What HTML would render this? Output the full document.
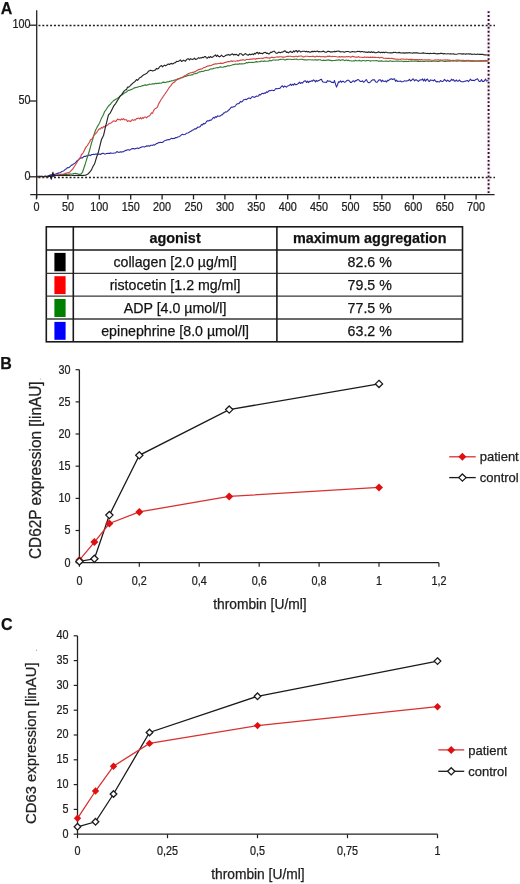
<!DOCTYPE html>
<html><head><meta charset="utf-8"><style>
html,body{margin:0;padding:0;background:#fff;}
body{width:520px;height:884px;position:relative;overflow:hidden;font-family:"Liberation Sans",sans-serif;}
text{stroke:#1a1a1a;stroke-width:0.25px;}
</style></head><body>
<svg width="520" height="884" viewBox="0 0 520 884" style="position:absolute;left:0;top:0;will-change:transform">
<rect width="520" height="884" fill="#fff"/>
<text x="0.8" y="13.6" font-family='"Liberation Sans", sans-serif' font-weight="bold" font-size="16" fill="#111">A</text>
<line x1="488.6" y1="10" x2="488.6" y2="194" stroke="#fbeef8" stroke-width="4"/>
<line x1="38.45" y1="25.5" x2="495" y2="25.5" stroke="#1e1e1e" stroke-width="1.5" stroke-dasharray="1.95 1.939"/>
<line x1="38.45" y1="177.4" x2="495" y2="177.4" stroke="#1e1e1e" stroke-width="1.5" stroke-dasharray="1.95 1.939"/>
<path d="M36.5 176.5 L37.5 176.4 L38.5 176.4 L39.5 176.3 L40.5 176.3 L41.5 176.3 L42.5 176.5 L43.5 176.5 L44.5 176.4 L45.5 176.2 L46.5 176.2 L47.5 176.1 L48.5 175.7 L49.5 175.3 L50.5 174.9 L51.5 174.7 L52.5 174.6 L53.5 174.5 L54.5 174.4 L55.5 174.1 L56.5 173.7 L57.5 173.4 L58.5 173.1 L59.5 172.8 L60.5 172.8 L61.5 171.5 L62.5 171.3 L63.5 170.9 L64.5 170.2 L65.5 169.2 L66.5 168.7 L67.5 167.6 L68.5 167.8 L69.5 167.2 L70.5 166.2 L71.5 165.1 L72.5 164.9 L73.5 163.9 L74.5 163.4 L75.5 162.7 L76.5 161.5 L77.5 160.5 L78.5 159.9 L79.5 158.9 L80.5 158.0 L81.5 157.7 L82.5 157.9 L83.5 156.8 L84.5 156.2 L85.5 156.4 L86.5 155.9 L87.5 155.8 L88.5 155.5 L89.5 155.1 L90.5 155.6 L91.5 154.6 L92.5 154.5 L93.5 154.2 L94.5 154.5 L95.5 154.1 L96.5 154.0 L97.5 154.4 L98.5 154.0 L99.5 154.1 L100.5 154.5 L101.5 153.7 L102.5 153.3 L103.5 153.4 L104.5 154.0 L105.5 154.0 L106.5 153.5 L107.5 153.4 L108.5 153.2 L109.5 153.4 L110.5 152.9 L111.5 153.2 L112.5 153.3 L113.5 153.3 L114.5 153.0 L115.5 153.0 L116.5 151.9 L117.5 151.8 L118.5 152.4 L119.5 152.3 L120.5 151.8 L121.5 152.1 L122.5 151.8 L123.5 151.7 L124.5 150.9 L125.5 150.4 L126.5 150.4 L127.5 149.8 L128.5 149.8 L129.5 150.3 L130.5 149.6 L131.5 148.9 L132.5 148.6 L133.5 148.5 L134.5 149.1 L135.5 148.6 L136.5 148.3 L137.5 147.9 L138.5 148.6 L139.5 148.1 L140.5 147.6 L141.5 147.1 L142.5 146.8 L143.5 146.7 L144.5 147.0 L145.5 146.4 L146.5 145.9 L147.5 146.1 L148.5 145.7 L149.5 146.3 L150.5 145.3 L151.5 145.3 L152.5 145.4 L153.5 144.8 L154.5 145.1 L155.5 144.3 L156.5 143.6 L157.5 143.4 L158.5 142.6 L159.5 142.6 L160.5 142.2 L161.5 142.5 L162.5 142.4 L163.5 141.7 L164.5 140.7 L165.5 140.5 L166.5 140.1 L167.5 139.8 L168.5 139.5 L169.5 139.8 L170.5 138.9 L171.5 138.3 L172.5 138.8 L173.5 138.4 L174.5 138.5 L175.5 137.6 L176.5 137.7 L177.5 137.1 L178.5 136.8 L179.5 136.4 L180.5 135.7 L181.5 134.8 L182.5 134.3 L183.5 134.7 L184.5 134.5 L185.5 134.2 L186.5 133.2 L187.5 133.0 L188.5 132.7 L189.5 132.0 L190.5 131.6 L191.5 130.8 L192.5 130.3 L193.5 129.8 L194.5 128.9 L195.5 128.9 L196.5 128.6 L197.5 127.1 L198.5 127.3 L199.5 127.0 L200.5 126.2 L201.5 124.5 L202.5 125.0 L203.5 123.4 L204.5 123.9 L205.5 123.2 L206.5 121.5 L207.5 120.8 L208.5 120.9 L209.5 120.4 L210.5 120.1 L211.5 120.0 L212.5 118.5 L213.5 117.4 L214.5 118.2 L215.5 116.6 L216.5 117.3 L217.5 115.9 L218.5 116.3 L219.5 116.1 L220.5 115.8 L221.5 114.9 L222.5 114.8 L223.5 113.1 L224.5 112.9 L225.5 111.9 L226.5 112.0 L227.5 111.4 L228.5 110.2 L229.5 109.5 L230.5 108.0 L231.5 107.1 L232.5 107.3 L233.5 106.7 L234.5 106.7 L235.5 105.8 L236.5 104.3 L237.5 103.8 L238.5 103.8 L239.5 103.0 L240.5 101.4 L241.5 101.9 L242.5 101.5 L243.5 99.7 L244.5 99.7 L245.5 99.3 L246.5 99.6 L247.5 98.7 L248.5 98.1 L249.5 98.1 L250.5 98.7 L251.5 97.2 L252.5 96.6 L253.5 97.0 L254.5 97.4 L255.5 96.7 L256.5 96.0 L257.5 96.3 L258.5 95.9 L259.5 94.4 L260.5 95.0 L261.5 93.8 L262.5 93.3 L263.5 93.8 L264.5 93.0 L265.5 93.1 L266.5 91.8 L267.5 92.4 L268.5 91.2 L269.5 90.5 L270.5 90.7 L271.5 90.3 L272.5 90.3 L273.5 90.7 L274.5 90.3 L275.5 88.7 L276.5 88.6 L277.5 88.7 L278.5 88.5 L279.5 88.5 L280.5 87.8 L281.5 86.2 L282.5 85.9 L283.5 87.3 L284.5 86.0 L285.5 86.5 L286.5 87.1 L287.5 86.0 L288.5 85.7 L289.5 85.3 L290.5 84.2 L291.5 85.4 L292.5 84.3 L293.5 85.1 L294.5 83.5 L295.5 84.6 L296.5 84.6 L297.5 84.0 L298.5 83.3 L299.5 82.1 L300.5 83.5 L301.5 82.6 L302.5 83.1 L303.5 81.7 L304.5 81.0 L305.5 80.8 L306.5 82.5 L307.5 81.1 L308.5 82.6 L309.5 81.4 L310.5 81.5 L311.5 80.8 L312.5 81.2 L313.5 79.9 L314.5 80.4 L315.5 82.0 L316.5 80.4 L317.5 81.3 L318.5 80.6 L319.5 80.3 L320.5 79.5 L321.5 79.2 L322.5 81.7 L323.5 82.1 L324.5 82.2 L325.5 82.2 L326.5 82.6 L327.5 80.6 L328.5 81.2 L329.5 81.1 L330.5 81.3 L331.5 82.4 L332.5 82.3 L333.5 82.8 L334.5 80.6 L335.5 84.1 L336.5 87.1 L337.5 84.7 L338.5 81.8 L339.5 82.3 L340.5 80.9 L341.5 82.3 L342.5 81.2 L343.5 81.4 L344.5 82.3 L345.5 82.0 L346.5 80.8 L347.5 80.2 L348.5 80.3 L349.5 81.1 L350.5 82.4 L351.5 82.5 L352.5 81.2 L353.5 80.8 L354.5 81.8 L355.5 80.6 L356.5 80.6 L357.5 79.5 L358.5 79.7 L359.5 80.7 L360.5 81.5 L361.5 81.5 L362.5 80.8 L363.5 82.2 L364.5 81.7 L365.5 80.2 L366.5 79.6 L367.5 81.9 L368.5 82.6 L369.5 82.7 L370.5 81.8 L371.5 80.7 L372.5 79.8 L373.5 79.9 L374.5 79.8 L375.5 81.8 L376.5 82.2 L377.5 82.0 L378.5 80.2 L379.5 79.9 L380.5 79.9 L381.5 81.8 L382.5 80.1 L383.5 81.3 L384.5 81.4 L385.5 81.0 L386.5 82.0 L387.5 80.4 L388.5 80.6 L389.5 79.6 L390.5 79.1 L391.5 78.8 L392.5 79.5 L393.5 79.1 L394.5 78.8 L395.5 81.3 L396.5 80.1 L397.5 81.4 L398.5 81.2 L399.5 81.2 L400.5 81.0 L401.5 81.8 L402.5 81.8 L403.5 81.4 L404.5 80.8 L405.5 81.0 L406.5 81.1 L407.5 80.7 L408.5 80.4 L409.5 79.4 L410.5 81.0 L411.5 80.5 L412.5 79.1 L413.5 79.0 L414.5 81.0 L415.5 79.8 L416.5 79.9 L417.5 80.7 L418.5 81.4 L419.5 80.2 L420.5 79.9 L421.5 80.0 L422.5 78.9 L423.5 80.9 L424.5 79.1 L425.5 81.2 L426.5 79.6 L427.5 79.1 L428.5 80.9 L429.5 81.4 L430.5 79.9 L431.5 80.3 L432.5 80.2 L433.5 80.9 L434.5 79.6 L435.5 81.0 L436.5 81.9 L437.5 81.4 L438.5 81.8 L439.5 82.0 L440.5 80.5 L441.5 81.3 L442.5 81.5 L443.5 80.9 L444.5 79.4 L445.5 80.4 L446.5 81.5 L447.5 80.1 L448.5 80.7 L449.5 81.5 L450.5 80.9 L451.5 79.2 L452.5 80.3 L453.5 79.6 L454.5 81.1 L455.5 81.0 L456.5 80.0 L457.5 81.3 L458.5 81.0 L459.5 80.0 L460.5 81.2 L461.5 81.7 L462.5 81.8 L463.5 81.8 L464.5 81.2 L465.5 81.1 L466.5 80.8 L467.5 80.5 L468.5 81.7 L469.5 80.3 L470.5 79.1 L471.5 80.5 L472.5 80.4 L473.5 80.4 L474.5 80.6 L475.5 79.7 L476.5 79.3 L477.5 78.8 L478.5 80.6 L479.5 81.5 L480.5 81.2 L481.5 79.5 L482.5 81.4 L483.5 81.5 L484.5 80.7 L485.5 79.0 L486.5 80.9 L487.5 80.8 L488.5 80.8" fill="none" stroke="#2c2ca4" stroke-width="1.1" stroke-linejoin="round"/>
<path d="M36.5 176.5 L37.5 176.6 L38.5 176.5 L39.5 176.6 L40.5 176.6 L41.5 176.4 L42.5 176.3 L43.5 176.6 L44.5 176.5 L45.5 176.4 L46.5 176.7 L47.5 176.5 L48.5 176.6 L49.5 176.4 L50.5 176.3 L51.5 176.0 L52.5 176.0 L53.5 176.0 L54.5 175.8 L55.5 175.7 L56.5 175.5 L57.5 175.1 L58.5 175.1 L59.5 175.0 L60.5 174.7 L61.5 174.4 L62.5 174.6 L63.5 174.5 L64.5 174.5 L65.5 174.5 L66.5 174.4 L67.5 174.3 L68.5 174.1 L69.5 174.1 L70.5 174.0 L71.5 174.0 L72.5 174.0 L73.5 173.6 L74.5 173.5 L75.5 173.4 L76.5 173.6 L77.5 173.9 L78.5 174.3 L79.5 174.3 L80.5 174.2 L81.5 173.6 L82.5 172.2 L83.5 169.3 L84.5 166.2 L85.5 163.2 L86.5 159.8 L87.5 156.8 L88.5 153.7 L89.5 150.5 L90.5 146.9 L91.5 143.0 L92.5 140.0 L93.5 136.7 L94.5 133.2 L95.5 130.3 L96.5 128.5 L97.5 126.3 L98.5 124.9 L99.5 123.0 L100.5 120.6 L101.5 118.1 L102.5 116.5 L103.5 114.6 L104.5 111.7 L105.5 110.6 L106.5 109.0 L107.5 107.4 L108.5 106.0 L109.5 105.0 L110.5 104.3 L111.5 102.6 L112.5 101.9 L113.5 100.5 L114.5 100.1 L115.5 99.2 L116.5 98.9 L117.5 98.4 L118.5 97.3 L119.5 97.0 L120.5 95.9 L121.5 94.9 L122.5 94.7 L123.5 93.7 L124.5 93.1 L125.5 92.6 L126.5 92.1 L127.5 91.1 L128.5 90.3 L129.5 90.4 L130.5 89.6 L131.5 89.6 L132.5 89.1 L133.5 88.2 L134.5 87.9 L135.5 87.6 L136.5 87.4 L137.5 87.1 L138.5 86.7 L139.5 86.5 L140.5 86.5 L141.5 86.0 L142.5 85.6 L143.5 85.6 L144.5 85.1 L145.5 84.9 L146.5 85.3 L147.5 84.9 L148.5 84.7 L149.5 84.1 L150.5 84.2 L151.5 84.2 L152.5 83.7 L153.5 83.9 L154.5 83.9 L155.5 83.3 L156.5 83.6 L157.5 83.4 L158.5 83.4 L159.5 83.1 L160.5 83.2 L161.5 83.1 L162.5 82.4 L163.5 82.1 L164.5 82.4 L165.5 82.6 L166.5 82.0 L167.5 81.8 L168.5 81.8 L169.5 81.4 L170.5 81.2 L171.5 80.9 L172.5 80.8 L173.5 80.6 L174.5 80.1 L175.5 79.8 L176.5 79.8 L177.5 78.9 L178.5 78.9 L179.5 78.8 L180.5 78.1 L181.5 77.6 L182.5 77.7 L183.5 77.1 L184.5 76.6 L185.5 76.4 L186.5 76.3 L187.5 75.6 L188.5 75.4 L189.5 75.2 L190.5 75.3 L191.5 74.8 L192.5 74.8 L193.5 74.0 L194.5 73.7 L195.5 73.6 L196.5 73.5 L197.5 72.9 L198.5 72.3 L199.5 71.8 L200.5 71.8 L201.5 71.3 L202.5 71.5 L203.5 71.4 L204.5 70.7 L205.5 70.4 L206.5 70.5 L207.5 70.3 L208.5 70.2 L209.5 69.6 L210.5 69.0 L211.5 68.8 L212.5 69.0 L213.5 68.4 L214.5 68.2 L215.5 68.0 L216.5 67.8 L217.5 67.6 L218.5 67.8 L219.5 67.1 L220.5 66.7 L221.5 67.2 L222.5 67.2 L223.5 67.1 L224.5 66.5 L225.5 66.6 L226.5 66.5 L227.5 65.7 L228.5 65.8 L229.5 65.8 L230.5 65.5 L231.5 65.2 L232.5 64.8 L233.5 64.6 L234.5 64.4 L235.5 64.1 L236.5 64.3 L237.5 64.0 L238.5 64.3 L239.5 63.6 L240.5 64.0 L241.5 63.8 L242.5 63.9 L243.5 63.8 L244.5 63.6 L245.5 63.2 L246.5 62.5 L247.5 62.9 L248.5 62.4 L249.5 62.3 L250.5 62.5 L251.5 62.4 L252.5 62.2 L253.5 62.5 L254.5 62.2 L255.5 61.9 L256.5 61.6 L257.5 62.0 L258.5 61.7 L259.5 61.8 L260.5 61.4 L261.5 61.0 L262.5 61.2 L263.5 61.4 L264.5 60.9 L265.5 61.2 L266.5 61.3 L267.5 61.2 L268.5 61.1 L269.5 60.4 L270.5 60.6 L271.5 60.8 L272.5 60.1 L273.5 60.0 L274.5 60.0 L275.5 60.1 L276.5 60.0 L277.5 60.0 L278.5 60.1 L279.5 59.5 L280.5 59.3 L281.5 59.3 L282.5 59.2 L283.5 59.2 L284.5 59.9 L285.5 60.0 L286.5 59.3 L287.5 59.4 L288.5 59.3 L289.5 59.2 L290.5 59.2 L291.5 59.5 L292.5 59.5 L293.5 59.4 L294.5 59.2 L295.5 59.3 L296.5 59.1 L297.5 59.5 L298.5 59.7 L299.5 59.5 L300.5 59.2 L301.5 59.2 L302.5 59.4 L303.5 59.7 L304.5 59.9 L305.5 59.7 L306.5 60.0 L307.5 59.9 L308.5 59.8 L309.5 59.7 L310.5 59.8 L311.5 60.0 L312.5 59.8 L313.5 60.0 L314.5 59.9 L315.5 59.7 L316.5 59.9 L317.5 60.1 L318.5 59.7 L319.5 59.8 L320.5 59.9 L321.5 60.3 L322.5 60.5 L323.5 60.1 L324.5 60.4 L325.5 60.5 L326.5 60.0 L327.5 60.1 L328.5 59.8 L329.5 60.4 L330.5 60.4 L331.5 60.6 L332.5 60.6 L333.5 60.5 L334.5 60.5 L335.5 60.4 L336.5 60.0 L337.5 60.3 L338.5 59.9 L339.5 59.9 L340.5 60.5 L341.5 60.0 L342.5 59.9 L343.5 59.9 L344.5 60.6 L345.5 60.2 L346.5 60.0 L347.5 60.6 L348.5 60.2 L349.5 60.7 L350.5 60.7 L351.5 60.9 L352.5 61.0 L353.5 60.8 L354.5 60.9 L355.5 60.3 L356.5 60.8 L357.5 60.7 L358.5 60.8 L359.5 60.4 L360.5 60.8 L361.5 61.1 L362.5 60.5 L363.5 60.5 L364.5 60.7 L365.5 61.0 L366.5 60.6 L367.5 60.5 L368.5 60.5 L369.5 60.8 L370.5 61.1 L371.5 60.8 L372.5 60.7 L373.5 60.8 L374.5 60.7 L375.5 60.8 L376.5 60.5 L377.5 60.8 L378.5 61.3 L379.5 61.0 L380.5 61.1 L381.5 60.9 L382.5 61.1 L383.5 61.2 L384.5 61.2 L385.5 61.1 L386.5 61.1 L387.5 61.2 L388.5 61.4 L389.5 61.0 L390.5 60.9 L391.5 61.2 L392.5 61.4 L393.5 61.3 L394.5 61.2 L395.5 61.3 L396.5 61.1 L397.5 61.1 L398.5 61.1 L399.5 61.3 L400.5 61.2 L401.5 61.1 L402.5 61.3 L403.5 61.6 L404.5 61.3 L405.5 61.4 L406.5 61.3 L407.5 61.5 L408.5 61.4 L409.5 61.2 L410.5 61.1 L411.5 60.9 L412.5 61.1 L413.5 61.2 L414.5 61.0 L415.5 61.1 L416.5 61.1 L417.5 61.4 L418.5 61.1 L419.5 61.5 L420.5 61.3 L421.5 61.3 L422.5 61.2 L423.5 61.4 L424.5 61.5 L425.5 61.3 L426.5 61.2 L427.5 61.3 L428.5 61.4 L429.5 61.2 L430.5 61.3 L431.5 61.5 L432.5 61.3 L433.5 61.1 L434.5 61.0 L435.5 61.2 L436.5 61.3 L437.5 61.5 L438.5 61.5 L439.5 61.1 L440.5 61.0 L441.5 61.0 L442.5 60.9 L443.5 61.2 L444.5 61.4 L445.5 61.4 L446.5 61.1 L447.5 61.3 L448.5 61.1 L449.5 61.1 L450.5 61.2 L451.5 60.9 L452.5 60.8 L453.5 61.2 L454.5 61.0 L455.5 61.0 L456.5 61.1 L457.5 61.2 L458.5 60.9 L459.5 60.9 L460.5 61.0 L461.5 61.1 L462.5 60.9 L463.5 61.1 L464.5 61.3 L465.5 61.1 L466.5 61.1 L467.5 60.9 L468.5 60.9 L469.5 61.1 L470.5 60.9 L471.5 61.2 L472.5 61.3 L473.5 60.9 L474.5 61.3 L475.5 61.0 L476.5 61.2 L477.5 61.2 L478.5 61.0 L479.5 61.1 L480.5 61.1 L481.5 61.2 L482.5 61.0 L483.5 61.1 L484.5 61.3 L485.5 61.2 L486.5 61.1 L487.5 60.8 L488.5 60.9" fill="none" stroke="#347f34" stroke-width="1.15" stroke-linejoin="round"/>
<path d="M36.5 176.8 L37.5 176.8 L38.5 176.5 L39.5 176.4 L40.5 176.6 L41.5 176.7 L42.5 176.6 L43.5 176.5 L44.5 176.6 L45.5 176.6 L46.5 176.6 L47.5 176.4 L48.5 176.4 L49.5 176.3 L50.5 176.3 L51.5 176.3 L52.5 176.2 L53.5 175.9 L54.5 175.7 L55.5 175.4 L56.5 175.1 L57.5 174.9 L58.5 174.9 L59.5 174.7 L60.5 174.5 L61.5 174.5 L62.5 174.2 L63.5 174.0 L64.5 173.7 L65.5 173.4 L66.5 173.1 L67.5 172.8 L68.5 172.6 L69.5 172.3 L70.5 171.3 L71.5 170.2 L72.5 169.4 L73.5 167.9 L74.5 166.3 L75.5 164.8 L76.5 163.2 L77.5 161.5 L78.5 159.7 L79.5 158.3 L80.5 157.5 L81.5 154.5 L82.5 153.7 L83.5 152.2 L84.5 149.9 L85.5 148.1 L86.5 146.4 L87.5 145.6 L88.5 143.5 L89.5 142.3 L90.5 139.8 L91.5 139.3 L92.5 138.3 L93.5 136.3 L94.5 134.5 L95.5 133.8 L96.5 132.7 L97.5 131.3 L98.5 129.7 L99.5 128.8 L100.5 128.8 L101.5 127.4 L102.5 128.1 L103.5 126.6 L104.5 127.0 L105.5 125.5 L106.5 125.9 L107.5 125.1 L108.5 124.0 L109.5 123.4 L110.5 123.2 L111.5 122.7 L112.5 121.7 L113.5 120.9 L114.5 121.0 L115.5 121.5 L116.5 120.7 L117.5 119.0 L118.5 119.7 L119.5 119.6 L120.5 120.1 L121.5 118.9 L122.5 119.7 L123.5 118.6 L124.5 119.8 L125.5 119.7 L126.5 119.9 L127.5 121.5 L128.5 120.8 L129.5 121.1 L130.5 121.6 L131.5 120.3 L132.5 119.6 L133.5 120.4 L134.5 119.7 L135.5 119.9 L136.5 118.5 L137.5 118.6 L138.5 118.1 L139.5 118.8 L140.5 117.7 L141.5 119.0 L142.5 117.5 L143.5 118.3 L144.5 117.0 L145.5 117.0 L146.5 117.9 L147.5 116.8 L148.5 116.1 L149.5 116.0 L150.5 114.6 L151.5 112.8 L152.5 113.3 L153.5 110.9 L154.5 109.2 L155.5 108.4 L156.5 107.9 L157.5 107.0 L158.5 104.1 L159.5 102.4 L160.5 100.5 L161.5 99.0 L162.5 97.6 L163.5 96.0 L164.5 94.7 L165.5 93.2 L166.5 91.8 L167.5 90.2 L168.5 88.7 L169.5 87.1 L170.5 86.1 L171.5 84.7 L172.5 83.3 L173.5 82.6 L174.5 82.2 L175.5 80.8 L176.5 80.1 L177.5 79.4 L178.5 79.0 L179.5 78.3 L180.5 78.4 L181.5 77.5 L182.5 77.2 L183.5 76.6 L184.5 75.7 L185.5 75.6 L186.5 74.8 L187.5 74.2 L188.5 73.6 L189.5 73.2 L190.5 72.7 L191.5 72.7 L192.5 72.3 L193.5 72.3 L194.5 71.9 L195.5 71.6 L196.5 70.6 L197.5 70.2 L198.5 69.6 L199.5 69.4 L200.5 69.1 L201.5 69.0 L202.5 68.6 L203.5 67.8 L204.5 67.5 L205.5 67.3 L206.5 66.5 L207.5 66.1 L208.5 66.0 L209.5 65.6 L210.5 65.7 L211.5 65.2 L212.5 64.7 L213.5 64.4 L214.5 64.1 L215.5 63.8 L216.5 63.9 L217.5 63.8 L218.5 63.5 L219.5 63.5 L220.5 63.1 L221.5 63.4 L222.5 63.4 L223.5 63.1 L224.5 62.6 L225.5 62.4 L226.5 62.3 L227.5 61.6 L228.5 61.6 L229.5 61.6 L230.5 61.2 L231.5 60.9 L232.5 61.4 L233.5 61.0 L234.5 61.0 L235.5 61.3 L236.5 61.0 L237.5 60.6 L238.5 61.0 L239.5 60.5 L240.5 60.0 L241.5 60.3 L242.5 59.9 L243.5 59.8 L244.5 60.2 L245.5 60.1 L246.5 59.4 L247.5 59.5 L248.5 59.5 L249.5 59.4 L250.5 59.1 L251.5 59.3 L252.5 58.8 L253.5 58.8 L254.5 58.8 L255.5 59.2 L256.5 58.5 L257.5 58.8 L258.5 58.4 L259.5 58.5 L260.5 58.3 L261.5 58.2 L262.5 58.4 L263.5 58.1 L264.5 57.7 L265.5 57.6 L266.5 57.4 L267.5 58.0 L268.5 57.9 L269.5 58.1 L270.5 57.9 L271.5 57.2 L272.5 57.4 L273.5 57.6 L274.5 57.5 L275.5 57.2 L276.5 57.0 L277.5 56.9 L278.5 57.2 L279.5 56.7 L280.5 56.8 L281.5 56.7 L282.5 57.1 L283.5 57.0 L284.5 57.1 L285.5 57.0 L286.5 56.5 L287.5 56.3 L288.5 56.4 L289.5 56.2 L290.5 56.3 L291.5 56.5 L292.5 56.8 L293.5 56.6 L294.5 56.7 L295.5 56.2 L296.5 56.2 L297.5 56.8 L298.5 56.2 L299.5 56.3 L300.5 56.0 L301.5 56.0 L302.5 56.6 L303.5 56.9 L304.5 56.7 L305.5 56.2 L306.5 56.2 L307.5 56.2 L308.5 56.5 L309.5 56.6 L310.5 56.5 L311.5 56.5 L312.5 56.2 L313.5 56.4 L314.5 56.8 L315.5 56.8 L316.5 56.2 L317.5 56.4 L318.5 56.7 L319.5 56.3 L320.5 56.8 L321.5 56.6 L322.5 56.7 L323.5 56.5 L324.5 56.9 L325.5 56.9 L326.5 56.7 L327.5 56.3 L328.5 56.4 L329.5 56.1 L330.5 56.5 L331.5 56.8 L332.5 56.4 L333.5 56.5 L334.5 56.5 L335.5 56.5 L336.5 56.7 L337.5 57.0 L338.5 56.9 L339.5 56.6 L340.5 57.0 L341.5 56.6 L342.5 56.8 L343.5 56.8 L344.5 56.9 L345.5 57.0 L346.5 56.5 L347.5 56.7 L348.5 56.5 L349.5 56.7 L350.5 57.1 L351.5 56.9 L352.5 56.3 L353.5 56.6 L354.5 56.9 L355.5 57.1 L356.5 57.1 L357.5 57.2 L358.5 56.6 L359.5 57.2 L360.5 57.2 L361.5 57.2 L362.5 57.4 L363.5 57.5 L364.5 56.9 L365.5 57.3 L366.5 57.4 L367.5 57.0 L368.5 57.4 L369.5 57.4 L370.5 57.1 L371.5 57.5 L372.5 57.1 L373.5 57.4 L374.5 57.4 L375.5 57.2 L376.5 57.5 L377.5 57.5 L378.5 57.3 L379.5 57.9 L380.5 57.5 L381.5 57.4 L382.5 57.7 L383.5 58.1 L384.5 58.2 L385.5 58.3 L386.5 58.3 L387.5 58.4 L388.5 58.3 L389.5 58.3 L390.5 58.5 L391.5 58.4 L392.5 58.4 L393.5 58.9 L394.5 58.8 L395.5 59.1 L396.5 59.2 L397.5 59.1 L398.5 59.2 L399.5 59.3 L400.5 59.4 L401.5 59.0 L402.5 59.0 L403.5 59.1 L404.5 59.2 L405.5 59.2 L406.5 59.0 L407.5 59.3 L408.5 59.6 L409.5 59.4 L410.5 59.4 L411.5 59.4 L412.5 59.4 L413.5 59.7 L414.5 59.5 L415.5 59.6 L416.5 59.6 L417.5 59.6 L418.5 59.9 L419.5 59.5 L420.5 59.8 L421.5 59.6 L422.5 59.8 L423.5 60.0 L424.5 59.9 L425.5 59.8 L426.5 60.0 L427.5 59.7 L428.5 59.9 L429.5 59.9 L430.5 60.0 L431.5 60.2 L432.5 60.2 L433.5 60.2 L434.5 60.0 L435.5 59.9 L436.5 60.0 L437.5 59.9 L438.5 59.9 L439.5 60.3 L440.5 59.9 L441.5 60.2 L442.5 60.1 L443.5 60.0 L444.5 60.0 L445.5 59.9 L446.5 60.0 L447.5 59.9 L448.5 60.1 L449.5 60.0 L450.5 60.4 L451.5 60.5 L452.5 60.3 L453.5 60.3 L454.5 60.5 L455.5 60.2 L456.5 60.0 L457.5 60.1 L458.5 60.0 L459.5 60.3 L460.5 60.2 L461.5 60.2 L462.5 60.5 L463.5 60.2 L464.5 60.5 L465.5 60.5 L466.5 60.3 L467.5 60.6 L468.5 60.4 L469.5 60.6 L470.5 60.7 L471.5 60.5 L472.5 60.6 L473.5 60.7 L474.5 60.7 L475.5 60.7 L476.5 60.7 L477.5 60.8 L478.5 60.7 L479.5 60.8 L480.5 60.5 L481.5 60.6 L482.5 60.7 L483.5 60.5 L484.5 60.5 L485.5 60.4 L486.5 60.8 L487.5 60.6 L488.5 60.6" fill="none" stroke="#d44646" stroke-width="1.15" stroke-linejoin="round"/>
<path d="M36.5 176.5 L37.5 176.7 L38.5 176.7 L39.5 176.5 L40.5 176.5 L41.5 176.5 L42.5 176.6 L43.5 176.7 L44.5 176.4 L45.5 176.3 L46.5 176.6 L47.5 176.5 L48.5 176.6 L49.5 176.2 L50.5 176.1 L51.5 176.1 L52.5 175.8 L53.5 175.8 L54.5 175.8 L55.5 175.5 L56.5 175.4 L57.5 175.5 L58.5 175.7 L59.5 175.5 L60.5 175.4 L61.5 175.5 L62.5 175.3 L63.5 175.4 L64.5 175.4 L65.5 175.5 L66.5 175.4 L67.5 175.3 L68.5 175.3 L69.5 175.4 L70.5 175.3 L71.5 175.2 L72.5 175.5 L73.5 175.4 L74.5 175.5 L75.5 175.3 L76.5 175.5 L77.5 175.5 L78.5 175.3 L79.5 175.3 L80.5 175.4 L81.5 175.4 L82.5 175.5 L83.5 175.3 L84.5 175.3 L85.5 175.2 L86.5 174.7 L87.5 174.3 L88.5 173.5 L89.5 172.4 L90.5 171.1 L91.5 169.9 L92.5 167.4 L93.5 165.5 L94.5 164.1 L95.5 160.9 L96.5 157.5 L97.5 154.7 L98.5 151.7 L99.5 147.7 L100.5 143.3 L101.5 139.5 L102.5 137.4 L103.5 135.5 L104.5 131.3 L105.5 126.6 L106.5 122.9 L107.5 118.7 L108.5 114.9 L109.5 113.8 L110.5 112.6 L111.5 110.5 L112.5 108.4 L113.5 106.4 L114.5 104.9 L115.5 103.8 L116.5 102.1 L117.5 100.3 L118.5 99.0 L119.5 96.9 L120.5 95.6 L121.5 94.9 L122.5 93.4 L123.5 91.9 L124.5 90.6 L125.5 89.9 L126.5 89.8 L127.5 87.1 L128.5 87.2 L129.5 86.4 L130.5 85.6 L131.5 84.2 L132.5 83.7 L133.5 82.5 L134.5 81.9 L135.5 81.0 L136.5 79.5 L137.5 80.3 L138.5 79.4 L139.5 77.8 L140.5 77.5 L141.5 76.8 L142.5 75.7 L143.5 74.9 L144.5 74.5 L145.5 74.0 L146.5 73.5 L147.5 72.6 L148.5 71.1 L149.5 70.8 L150.5 70.2 L151.5 70.5 L152.5 70.9 L153.5 70.7 L154.5 70.3 L155.5 69.9 L156.5 68.4 L157.5 68.9 L158.5 68.5 L159.5 66.9 L160.5 66.1 L161.5 65.6 L162.5 66.8 L163.5 65.9 L164.5 65.1 L165.5 65.8 L166.5 65.3 L167.5 64.3 L168.5 64.1 L169.5 64.5 L170.5 63.7 L171.5 63.4 L172.5 64.0 L173.5 63.4 L174.5 62.8 L175.5 62.6 L176.5 61.4 L177.5 61.5 L178.5 61.4 L179.5 60.6 L180.5 59.9 L181.5 61.4 L182.5 61.0 L183.5 60.2 L184.5 60.7 L185.5 61.2 L186.5 59.6 L187.5 58.9 L188.5 58.8 L189.5 59.8 L190.5 58.7 L191.5 59.3 L192.5 59.4 L193.5 59.0 L194.5 58.2 L195.5 59.4 L196.5 59.3 L197.5 58.6 L198.5 57.7 L199.5 58.2 L200.5 57.8 L201.5 57.9 L202.5 57.3 L203.5 57.7 L204.5 56.6 L205.5 56.6 L206.5 58.0 L207.5 58.1 L208.5 56.9 L209.5 57.6 L210.5 56.5 L211.5 57.4 L212.5 57.2 L213.5 56.4 L214.5 55.7 L215.5 54.9 L216.5 56.5 L217.5 55.1 L218.5 56.3 L219.5 56.9 L220.5 56.2 L221.5 55.1 L222.5 56.2 L223.5 56.7 L224.5 56.2 L225.5 55.6 L226.5 55.1 L227.5 54.9 L228.5 54.4 L229.5 55.2 L230.5 54.9 L231.5 54.3 L232.5 53.9 L233.5 54.9 L234.5 54.4 L235.5 54.6 L236.5 54.3 L237.5 55.3 L238.5 55.6 L239.5 53.8 L240.5 53.7 L241.5 53.8 L242.5 55.2 L243.5 55.2 L244.5 54.2 L245.5 53.6 L246.5 54.4 L247.5 54.9 L248.5 55.2 L249.5 54.0 L250.5 54.7 L251.5 54.4 L252.5 53.9 L253.5 54.7 L254.5 53.3 L255.5 53.9 L256.5 52.6 L257.5 52.4 L258.5 53.8 L259.5 52.7 L260.5 53.5 L261.5 53.3 L262.5 53.8 L263.5 52.9 L264.5 52.5 L265.5 52.3 L266.5 53.4 L267.5 53.1 L268.5 53.8 L269.5 53.8 L270.5 52.2 L271.5 52.5 L272.5 51.7 L273.5 51.3 L274.5 51.2 L275.5 52.8 L276.5 53.1 L277.5 53.2 L278.5 52.2 L279.5 52.4 L280.5 52.8 L281.5 52.1 L282.5 52.2 L283.5 51.5 L284.5 50.9 L285.5 51.1 L286.5 52.5 L287.5 52.1 L288.5 52.8 L289.5 51.9 L290.5 51.3 L291.5 52.2 L292.5 52.5 L293.5 50.9 L294.5 51.8 L295.5 50.9 L296.5 50.6 L297.5 52.2 L298.5 50.9 L299.5 50.9 L300.5 51.9 L301.5 51.7 L302.5 51.3 L303.5 51.2 L304.5 51.3 L305.5 51.8 L306.5 51.3 L307.5 52.0 L308.5 51.6 L309.5 52.1 L310.5 52.2 L311.5 51.6 L312.5 51.4 L313.5 51.6 L314.5 51.2 L315.5 51.7 L316.5 51.2 L317.5 51.0 L318.5 51.9 L319.5 51.5 L320.5 51.7 L321.5 51.6 L322.5 51.4 L323.5 51.1 L324.5 51.9 L325.5 52.2 L326.5 52.2 L327.5 51.4 L328.5 51.3 L329.5 51.6 L330.5 52.1 L331.5 51.8 L332.5 51.9 L333.5 51.8 L334.5 51.4 L335.5 51.6 L336.5 51.4 L337.5 51.3 L338.5 51.1 L339.5 51.2 L340.5 52.0 L341.5 51.7 L342.5 51.8 L343.5 51.9 L344.5 52.2 L345.5 51.7 L346.5 51.5 L347.5 51.5 L348.5 51.5 L349.5 52.0 L350.5 52.3 L351.5 51.8 L352.5 51.6 L353.5 51.8 L354.5 51.9 L355.5 52.0 L356.5 51.7 L357.5 51.4 L358.5 51.5 L359.5 51.4 L360.5 51.9 L361.5 51.5 L362.5 51.5 L363.5 52.0 L364.5 51.8 L365.5 52.3 L366.5 52.1 L367.5 52.5 L368.5 51.9 L369.5 52.1 L370.5 52.4 L371.5 51.8 L372.5 52.5 L373.5 52.0 L374.5 52.4 L375.5 52.8 L376.5 52.7 L377.5 52.2 L378.5 51.9 L379.5 52.2 L380.5 52.6 L381.5 52.3 L382.5 52.6 L383.5 52.2 L384.5 52.6 L385.5 52.2 L386.5 52.3 L387.5 52.7 L388.5 52.7 L389.5 52.8 L390.5 52.8 L391.5 52.8 L392.5 52.8 L393.5 52.4 L394.5 52.5 L395.5 52.4 L396.5 52.7 L397.5 52.8 L398.5 52.6 L399.5 52.4 L400.5 52.9 L401.5 53.0 L402.5 52.9 L403.5 52.9 L404.5 53.1 L405.5 52.9 L406.5 52.8 L407.5 52.8 L408.5 52.8 L409.5 52.6 L410.5 53.0 L411.5 53.0 L412.5 53.1 L413.5 52.8 L414.5 52.9 L415.5 52.8 L416.5 52.8 L417.5 52.9 L418.5 53.3 L419.5 53.2 L420.5 53.2 L421.5 53.3 L422.5 53.1 L423.5 52.9 L424.5 53.2 L425.5 53.3 L426.5 53.5 L427.5 53.4 L428.5 53.5 L429.5 53.6 L430.5 53.4 L431.5 53.5 L432.5 53.5 L433.5 53.3 L434.5 53.4 L435.5 53.6 L436.5 53.8 L437.5 53.9 L438.5 53.5 L439.5 53.7 L440.5 53.4 L441.5 53.3 L442.5 53.5 L443.5 53.9 L444.5 53.5 L445.5 53.8 L446.5 54.0 L447.5 53.7 L448.5 53.8 L449.5 54.0 L450.5 53.7 L451.5 53.9 L452.5 54.0 L453.5 53.9 L454.5 54.1 L455.5 54.2 L456.5 54.2 L457.5 54.0 L458.5 53.7 L459.5 53.7 L460.5 53.7 L461.5 53.9 L462.5 54.1 L463.5 53.7 L464.5 54.0 L465.5 54.1 L466.5 53.9 L467.5 54.0 L468.5 53.8 L469.5 54.1 L470.5 53.8 L471.5 54.3 L472.5 54.3 L473.5 54.2 L474.5 54.0 L475.5 54.3 L476.5 54.5 L477.5 54.0 L478.5 54.3 L479.5 54.4 L480.5 54.3 L481.5 54.4 L482.5 54.2 L483.5 54.6 L484.5 54.9 L485.5 54.7 L486.5 55.0 L487.5 55.0 L488.5 55.0" fill="none" stroke="#262626" stroke-width="1.15" stroke-linejoin="round"/>
<polyline points="48.5,176.6 49.8,175.6 50.6,176.4 51.3,179.2 52.1,175.4 52.9,172.4 53.7,175.6 55,175.2" fill="none" stroke="#181838" stroke-width="1.2" stroke-linejoin="round"/>
<line x1="488.6" y1="11.2" x2="488.6" y2="194" stroke="#2c1029" stroke-width="1.9" stroke-dasharray="1.9 2.013"/>
<line x1="36.7" y1="10.2" x2="36.7" y2="198" stroke="#222" stroke-width="1.3"/>
<line x1="30.2" y1="194.6" x2="494.6" y2="194.6" stroke="#222" stroke-width="1.3"/>
<line x1="29.5" y1="25.2" x2="36.7" y2="25.2" stroke="#222" stroke-width="1.3"/>
<text transform="translate(30.40 28.30) scale(0.900 1)" text-anchor="end" font-family='"Liberation Sans", sans-serif' font-size="12.0" fill="#1e1e1e">100</text>
<line x1="29.5" y1="101.0" x2="36.7" y2="101.0" stroke="#222" stroke-width="1.3"/>
<text transform="translate(30.40 104.10) scale(0.900 1)" text-anchor="end" font-family='"Liberation Sans", sans-serif' font-size="12.0" fill="#1e1e1e">50</text>
<line x1="29.5" y1="176.8" x2="36.7" y2="176.8" stroke="#222" stroke-width="1.3"/>
<text transform="translate(30.40 179.90) scale(0.900 1)" text-anchor="end" font-family='"Liberation Sans", sans-serif' font-size="12.0" fill="#1e1e1e">0</text>
<line x1="36.5" y1="194.6" x2="36.5" y2="199.4" stroke="#222" stroke-width="1.3"/>
<text transform="translate(36.50 211.00) scale(0.900 1)" text-anchor="middle" font-family='"Liberation Sans", sans-serif' font-size="12.0" fill="#1e1e1e">0</text>
<line x1="67.9" y1="194.6" x2="67.9" y2="199.4" stroke="#222" stroke-width="1.3"/>
<text transform="translate(67.90 211.00) scale(0.900 1)" text-anchor="middle" font-family='"Liberation Sans", sans-serif' font-size="12.0" fill="#1e1e1e">50</text>
<line x1="99.3" y1="194.6" x2="99.3" y2="199.4" stroke="#222" stroke-width="1.3"/>
<text transform="translate(99.30 211.00) scale(0.900 1)" text-anchor="middle" font-family='"Liberation Sans", sans-serif' font-size="12.0" fill="#1e1e1e">100</text>
<line x1="130.7" y1="194.6" x2="130.7" y2="199.4" stroke="#222" stroke-width="1.3"/>
<text transform="translate(130.70 211.00) scale(0.900 1)" text-anchor="middle" font-family='"Liberation Sans", sans-serif' font-size="12.0" fill="#1e1e1e">150</text>
<line x1="162.1" y1="194.6" x2="162.1" y2="199.4" stroke="#222" stroke-width="1.3"/>
<text transform="translate(162.10 211.00) scale(0.900 1)" text-anchor="middle" font-family='"Liberation Sans", sans-serif' font-size="12.0" fill="#1e1e1e">200</text>
<line x1="193.5" y1="194.6" x2="193.5" y2="199.4" stroke="#222" stroke-width="1.3"/>
<text transform="translate(193.50 211.00) scale(0.900 1)" text-anchor="middle" font-family='"Liberation Sans", sans-serif' font-size="12.0" fill="#1e1e1e">250</text>
<line x1="224.9" y1="194.6" x2="224.9" y2="199.4" stroke="#222" stroke-width="1.3"/>
<text transform="translate(224.90 211.00) scale(0.900 1)" text-anchor="middle" font-family='"Liberation Sans", sans-serif' font-size="12.0" fill="#1e1e1e">300</text>
<line x1="256.3" y1="194.6" x2="256.3" y2="199.4" stroke="#222" stroke-width="1.3"/>
<text transform="translate(256.30 211.00) scale(0.900 1)" text-anchor="middle" font-family='"Liberation Sans", sans-serif' font-size="12.0" fill="#1e1e1e">350</text>
<line x1="287.7" y1="194.6" x2="287.7" y2="199.4" stroke="#222" stroke-width="1.3"/>
<text transform="translate(287.70 211.00) scale(0.900 1)" text-anchor="middle" font-family='"Liberation Sans", sans-serif' font-size="12.0" fill="#1e1e1e">400</text>
<line x1="319.1" y1="194.6" x2="319.1" y2="199.4" stroke="#222" stroke-width="1.3"/>
<text transform="translate(319.10 211.00) scale(0.900 1)" text-anchor="middle" font-family='"Liberation Sans", sans-serif' font-size="12.0" fill="#1e1e1e">450</text>
<line x1="350.5" y1="194.6" x2="350.5" y2="199.4" stroke="#222" stroke-width="1.3"/>
<text transform="translate(350.50 211.00) scale(0.900 1)" text-anchor="middle" font-family='"Liberation Sans", sans-serif' font-size="12.0" fill="#1e1e1e">500</text>
<line x1="381.9" y1="194.6" x2="381.9" y2="199.4" stroke="#222" stroke-width="1.3"/>
<text transform="translate(381.90 211.00) scale(0.900 1)" text-anchor="middle" font-family='"Liberation Sans", sans-serif' font-size="12.0" fill="#1e1e1e">550</text>
<line x1="413.3" y1="194.6" x2="413.3" y2="199.4" stroke="#222" stroke-width="1.3"/>
<text transform="translate(413.30 211.00) scale(0.900 1)" text-anchor="middle" font-family='"Liberation Sans", sans-serif' font-size="12.0" fill="#1e1e1e">600</text>
<line x1="444.7" y1="194.6" x2="444.7" y2="199.4" stroke="#222" stroke-width="1.3"/>
<text transform="translate(444.70 211.00) scale(0.900 1)" text-anchor="middle" font-family='"Liberation Sans", sans-serif' font-size="12.0" fill="#1e1e1e">650</text>
<line x1="476.1" y1="194.6" x2="476.1" y2="199.4" stroke="#222" stroke-width="1.3"/>
<text transform="translate(476.10 211.00) scale(0.900 1)" text-anchor="middle" font-family='"Liberation Sans", sans-serif' font-size="12.0" fill="#1e1e1e">700</text>
<g stroke="#1a1a1a" fill="none">
<rect x="46.3" y="226.8" width="416.2" height="115.0" stroke-width="1.6"/>
<line x1="46.3" y1="250.0" x2="462.5" y2="250.0" stroke-width="1.6"/>
<line x1="46.3" y1="273.3" x2="462.5" y2="273.3" stroke-width="1.35" stroke="#383838"/>
<line x1="46.3" y1="296.1" x2="462.5" y2="296.1" stroke-width="1.35" stroke="#383838"/>
<line x1="46.3" y1="319.0" x2="462.5" y2="319.0" stroke-width="1.35" stroke="#383838"/>
<line x1="73.3" y1="226.8" x2="73.3" y2="341.8" stroke-width="1.6"/>
<line x1="276.9" y1="226.8" x2="276.9" y2="341.8" stroke-width="1.6"/>
</g>
<text x="175.1" y="243" text-anchor="middle" font-family='"Liberation Sans", sans-serif' font-weight="bold" font-size="14.4" fill="#111">agonist</text>
<text x="369.7" y="243" text-anchor="middle" font-family='"Liberation Sans", sans-serif' font-weight="bold" font-size="14.4" fill="#111">maximum aggregation</text>
<rect x="54.4" y="252.9" width="11.2" height="18.4" fill="#000000"/>
<text x="175.1" y="266.9" text-anchor="middle" font-family='"Liberation Sans", sans-serif' font-size="14.2" fill="#111">collagen [2.0 µg/ml]</text>
<text x="369.7" y="266.9" text-anchor="middle" font-family='"Liberation Sans", sans-serif' font-size="14.2" fill="#111">82.6 %</text>
<rect x="54.4" y="276.2" width="11.2" height="17.9" fill="#ff0000"/>
<text x="175.1" y="290.2" text-anchor="middle" font-family='"Liberation Sans", sans-serif' font-size="14.2" fill="#111">ristocetin [1.2 mg/ml]</text>
<text x="369.7" y="290.2" text-anchor="middle" font-family='"Liberation Sans", sans-serif' font-size="14.2" fill="#111">79.5 %</text>
<rect x="54.4" y="299.0" width="11.2" height="18.0" fill="#008000"/>
<text x="175.1" y="313.0" text-anchor="middle" font-family='"Liberation Sans", sans-serif' font-size="14.2" fill="#111">ADP [4.0 µmol/l]</text>
<text x="369.7" y="313.0" text-anchor="middle" font-family='"Liberation Sans", sans-serif' font-size="14.2" fill="#111">77.5 %</text>
<rect x="54.4" y="321.9" width="11.2" height="17.9" fill="#0000ff"/>
<text x="175.1" y="335.9" text-anchor="middle" font-family='"Liberation Sans", sans-serif' font-size="14.2" fill="#111">epinephrine [8.0 µmol/l]</text>
<text x="369.7" y="335.9" text-anchor="middle" font-family='"Liberation Sans", sans-serif' font-size="14.2" fill="#111">63.2 %</text>
<text x="0.3" y="368.5" font-family='"Liberation Sans", sans-serif' font-weight="bold" font-size="16" fill="#111">B</text>
<line x1="79.4" y1="369.7" x2="79.4" y2="562.7" stroke="#222" stroke-width="1.3"/>
<line x1="79.4" y1="562.7" x2="438.9" y2="562.7" stroke="#222" stroke-width="1.3"/>
<line x1="75.6" y1="562.7" x2="79.4" y2="562.7" stroke="#222" stroke-width="1.2"/>
<text transform="translate(70.50 566.50) scale(0.900 1)" text-anchor="end" font-family='"Liberation Sans", sans-serif' font-size="12.0" fill="#1e1e1e">0</text>
<line x1="75.6" y1="530.5" x2="79.4" y2="530.5" stroke="#222" stroke-width="1.2"/>
<text transform="translate(70.50 534.34) scale(0.900 1)" text-anchor="end" font-family='"Liberation Sans", sans-serif' font-size="12.0" fill="#1e1e1e">5</text>
<line x1="75.6" y1="498.4" x2="79.4" y2="498.4" stroke="#222" stroke-width="1.2"/>
<text transform="translate(70.50 502.17) scale(0.900 1)" text-anchor="end" font-family='"Liberation Sans", sans-serif' font-size="12.0" fill="#1e1e1e">10</text>
<line x1="75.6" y1="466.2" x2="79.4" y2="466.2" stroke="#222" stroke-width="1.2"/>
<text transform="translate(70.50 470.01) scale(0.900 1)" text-anchor="end" font-family='"Liberation Sans", sans-serif' font-size="12.0" fill="#1e1e1e">15</text>
<line x1="75.6" y1="434.0" x2="79.4" y2="434.0" stroke="#222" stroke-width="1.2"/>
<text transform="translate(70.50 437.84) scale(0.900 1)" text-anchor="end" font-family='"Liberation Sans", sans-serif' font-size="12.0" fill="#1e1e1e">20</text>
<line x1="75.6" y1="401.9" x2="79.4" y2="401.9" stroke="#222" stroke-width="1.2"/>
<text transform="translate(70.50 405.68) scale(0.900 1)" text-anchor="end" font-family='"Liberation Sans", sans-serif' font-size="12.0" fill="#1e1e1e">25</text>
<line x1="75.6" y1="369.7" x2="79.4" y2="369.7" stroke="#222" stroke-width="1.2"/>
<text transform="translate(70.50 373.51) scale(0.900 1)" text-anchor="end" font-family='"Liberation Sans", sans-serif' font-size="12.0" fill="#1e1e1e">30</text>
<line x1="79.4" y1="562.7" x2="79.4" y2="566.7" stroke="#222" stroke-width="1.2"/>
<text transform="translate(79.40 584.80) scale(0.900 1)" text-anchor="middle" font-family='"Liberation Sans", sans-serif' font-size="12.0" fill="#1e1e1e">0</text>
<line x1="139.3" y1="562.7" x2="139.3" y2="566.7" stroke="#222" stroke-width="1.2"/>
<text transform="translate(139.32 584.80) scale(0.900 1)" text-anchor="middle" font-family='"Liberation Sans", sans-serif' font-size="12.0" fill="#1e1e1e">0,2</text>
<line x1="199.2" y1="562.7" x2="199.2" y2="566.7" stroke="#222" stroke-width="1.2"/>
<text transform="translate(199.24 584.80) scale(0.900 1)" text-anchor="middle" font-family='"Liberation Sans", sans-serif' font-size="12.0" fill="#1e1e1e">0,4</text>
<line x1="259.2" y1="562.7" x2="259.2" y2="566.7" stroke="#222" stroke-width="1.2"/>
<text transform="translate(259.16 584.80) scale(0.900 1)" text-anchor="middle" font-family='"Liberation Sans", sans-serif' font-size="12.0" fill="#1e1e1e">0,6</text>
<line x1="319.1" y1="562.7" x2="319.1" y2="566.7" stroke="#222" stroke-width="1.2"/>
<text transform="translate(319.08 584.80) scale(0.900 1)" text-anchor="middle" font-family='"Liberation Sans", sans-serif' font-size="12.0" fill="#1e1e1e">0,8</text>
<line x1="379.0" y1="562.7" x2="379.0" y2="566.7" stroke="#222" stroke-width="1.2"/>
<text transform="translate(379.00 584.80) scale(0.900 1)" text-anchor="middle" font-family='"Liberation Sans", sans-serif' font-size="12.0" fill="#1e1e1e">1</text>
<line x1="438.9" y1="562.7" x2="438.9" y2="566.7" stroke="#222" stroke-width="1.2"/>
<text transform="translate(438.92 584.80) scale(0.900 1)" text-anchor="middle" font-family='"Liberation Sans", sans-serif' font-size="12.0" fill="#1e1e1e">1,2</text>
<text x="213.2" y="608.8" font-family='"Liberation Sans", sans-serif' font-size="13.8" fill="#222" textLength="93.4" lengthAdjust="spacingAndGlyphs">thrombin [U/ml]</text>
<text transform="translate(41.2 470.2) rotate(-90)" text-anchor="middle" font-family='"Liberation Sans", sans-serif' font-size="15.6" fill="#222" textLength="177.6" lengthAdjust="spacingAndGlyphs">CD62P expression [linAU]</text>
<circle cx="40.4" cy="379.0" r="0.6" fill="#999"/>
<polyline points="79.4,561.4 94.4,558.8 109.4,515.1 139.3,455.3 229.2,409.6 379.0,383.9" fill="none" stroke="#1a1a1a" stroke-width="1.3"/>
<polyline points="79.4,560.1 94.4,542.1 109.4,523.5 139.3,511.9 229.2,496.4 379.0,487.4" fill="none" stroke="#d83030" stroke-width="1.3"/>
<path d="M79.4 556.1L83.4 560.1L79.4 564.1L75.4 560.1Z" fill="#e01010" stroke="none" stroke-width="0.0"/>
<path d="M94.4 538.1L98.4 542.1L94.4 546.1L90.4 542.1Z" fill="#e01010" stroke="none" stroke-width="0.0"/>
<path d="M109.4 519.5L113.4 523.5L109.4 527.5L105.4 523.5Z" fill="#e01010" stroke="none" stroke-width="0.0"/>
<path d="M139.3 507.9L143.3 511.9L139.3 515.9L135.3 511.9Z" fill="#e01010" stroke="none" stroke-width="0.0"/>
<path d="M229.2 492.4L233.2 496.4L229.2 500.4L225.2 496.4Z" fill="#e01010" stroke="none" stroke-width="0.0"/>
<path d="M379.0 483.4L383.0 487.4L379.0 491.4L375.0 487.4Z" fill="#e01010" stroke="none" stroke-width="0.0"/>
<path d="M79.4 557.8L83.0 561.4L79.4 565.0L75.8 561.4Z" fill="#fff" stroke="#1a1a1a" stroke-width="1.3"/>
<path d="M94.4 555.2L98.0 558.8L94.4 562.4L90.8 558.8Z" fill="#fff" stroke="#1a1a1a" stroke-width="1.3"/>
<path d="M109.4 511.5L113.0 515.1L109.4 518.7L105.8 515.1Z" fill="#fff" stroke="#1a1a1a" stroke-width="1.3"/>
<path d="M139.3 451.7L142.9 455.3L139.3 458.9L135.7 455.3Z" fill="#fff" stroke="#1a1a1a" stroke-width="1.3"/>
<path d="M229.2 406.0L232.8 409.6L229.2 413.2L225.6 409.6Z" fill="#fff" stroke="#1a1a1a" stroke-width="1.3"/>
<path d="M379.0 380.3L382.6 383.9L379.0 387.5L375.4 383.9Z" fill="#fff" stroke="#1a1a1a" stroke-width="1.3"/>
<line x1="449.2" y1="456.8" x2="475.7" y2="456.8" stroke="#d83030" stroke-width="1.3"/>
<path d="M462.4 452.8L466.4 456.8L462.4 460.8L458.4 456.8Z" fill="#e01010" stroke="none" stroke-width="0.0"/>
<line x1="449.2" y1="477.6" x2="475.7" y2="477.6" stroke="#1a1a1a" stroke-width="1.3"/>
<path d="M462.4 474.0L466.1 477.6L462.4 481.2L458.8 477.6Z" fill="#fff" stroke="#1a1a1a" stroke-width="1.3"/>
<text x="479.7" y="461.4" font-family='"Liberation Sans", sans-serif' font-size="13" fill="#222">patient</text>
<text x="479.7" y="482.2" font-family='"Liberation Sans", sans-serif' font-size="13" fill="#222">control</text>
<text x="1.0" y="630.0" font-family='"Liberation Sans", sans-serif' font-weight="bold" font-size="16" fill="#111">C</text>
<line x1="77.5" y1="635.8" x2="77.5" y2="834.2" stroke="#222" stroke-width="1.3"/>
<line x1="77.5" y1="834.2" x2="437.5" y2="834.2" stroke="#222" stroke-width="1.3"/>
<line x1="73.7" y1="834.2" x2="77.5" y2="834.2" stroke="#222" stroke-width="1.2"/>
<text transform="translate(68.60 837.50) scale(0.900 1)" text-anchor="end" font-family='"Liberation Sans", sans-serif' font-size="12.0" fill="#1e1e1e">0</text>
<line x1="73.7" y1="809.4" x2="77.5" y2="809.4" stroke="#222" stroke-width="1.2"/>
<text transform="translate(68.60 812.70) scale(0.900 1)" text-anchor="end" font-family='"Liberation Sans", sans-serif' font-size="12.0" fill="#1e1e1e">5</text>
<line x1="73.7" y1="784.6" x2="77.5" y2="784.6" stroke="#222" stroke-width="1.2"/>
<text transform="translate(68.60 787.90) scale(0.900 1)" text-anchor="end" font-family='"Liberation Sans", sans-serif' font-size="12.0" fill="#1e1e1e">10</text>
<line x1="73.7" y1="759.8" x2="77.5" y2="759.8" stroke="#222" stroke-width="1.2"/>
<text transform="translate(68.60 763.10) scale(0.900 1)" text-anchor="end" font-family='"Liberation Sans", sans-serif' font-size="12.0" fill="#1e1e1e">15</text>
<line x1="73.7" y1="735.0" x2="77.5" y2="735.0" stroke="#222" stroke-width="1.2"/>
<text transform="translate(68.60 738.30) scale(0.900 1)" text-anchor="end" font-family='"Liberation Sans", sans-serif' font-size="12.0" fill="#1e1e1e">20</text>
<line x1="73.7" y1="710.2" x2="77.5" y2="710.2" stroke="#222" stroke-width="1.2"/>
<text transform="translate(68.60 713.50) scale(0.900 1)" text-anchor="end" font-family='"Liberation Sans", sans-serif' font-size="12.0" fill="#1e1e1e">25</text>
<line x1="73.7" y1="685.4" x2="77.5" y2="685.4" stroke="#222" stroke-width="1.2"/>
<text transform="translate(68.60 688.70) scale(0.900 1)" text-anchor="end" font-family='"Liberation Sans", sans-serif' font-size="12.0" fill="#1e1e1e">30</text>
<line x1="73.7" y1="660.6" x2="77.5" y2="660.6" stroke="#222" stroke-width="1.2"/>
<text transform="translate(68.60 663.90) scale(0.900 1)" text-anchor="end" font-family='"Liberation Sans", sans-serif' font-size="12.0" fill="#1e1e1e">35</text>
<line x1="73.7" y1="635.8" x2="77.5" y2="635.8" stroke="#222" stroke-width="1.2"/>
<text transform="translate(68.60 639.10) scale(0.900 1)" text-anchor="end" font-family='"Liberation Sans", sans-serif' font-size="12.0" fill="#1e1e1e">40</text>
<line x1="77.5" y1="834.2" x2="77.5" y2="838.2" stroke="#222" stroke-width="1.2"/>
<text transform="translate(77.50 855.00) scale(0.900 1)" text-anchor="middle" font-family='"Liberation Sans", sans-serif' font-size="12.0" fill="#1e1e1e">0</text>
<line x1="167.5" y1="834.2" x2="167.5" y2="838.2" stroke="#222" stroke-width="1.2"/>
<text transform="translate(167.50 855.00) scale(0.900 1)" text-anchor="middle" font-family='"Liberation Sans", sans-serif' font-size="12.0" fill="#1e1e1e">0,25</text>
<line x1="257.5" y1="834.2" x2="257.5" y2="838.2" stroke="#222" stroke-width="1.2"/>
<text transform="translate(257.50 855.00) scale(0.900 1)" text-anchor="middle" font-family='"Liberation Sans", sans-serif' font-size="12.0" fill="#1e1e1e">0,5</text>
<line x1="347.5" y1="834.2" x2="347.5" y2="838.2" stroke="#222" stroke-width="1.2"/>
<text transform="translate(347.50 855.00) scale(0.900 1)" text-anchor="middle" font-family='"Liberation Sans", sans-serif' font-size="12.0" fill="#1e1e1e">0,75</text>
<line x1="437.5" y1="834.2" x2="437.5" y2="838.2" stroke="#222" stroke-width="1.2"/>
<text transform="translate(437.50 855.00) scale(0.900 1)" text-anchor="middle" font-family='"Liberation Sans", sans-serif' font-size="12.0" fill="#1e1e1e">1</text>
<text x="211.2" y="878.8" font-family='"Liberation Sans", sans-serif' font-size="13.8" fill="#222" textLength="93.4" lengthAdjust="spacingAndGlyphs">thrombin [U/ml]</text>
<text transform="translate(35.7 743.2) rotate(-90)" text-anchor="middle" font-family='"Liberation Sans", sans-serif' font-size="15.3" fill="#222" textLength="161.4" lengthAdjust="spacingAndGlyphs">CD63 expression [linAU]</text>
<circle cx="36.5" cy="650.2" r="0.6" fill="#999"/>
<polyline points="77.5,826.8 95.5,821.8 113.5,794.0 149.5,732.5 257.5,696.3 437.5,661.1" fill="none" stroke="#1a1a1a" stroke-width="1.3"/>
<polyline points="77.5,818.3 95.5,791.0 113.5,766.2 149.5,743.4 257.5,725.6 437.5,706.7" fill="none" stroke="#d83030" stroke-width="1.3"/>
<path d="M77.5 814.6L81.2 818.3L77.5 822.0L73.8 818.3Z" fill="#e01010" stroke="none" stroke-width="0.0"/>
<path d="M95.5 787.3L99.2 791.0L95.5 794.7L91.8 791.0Z" fill="#e01010" stroke="none" stroke-width="0.0"/>
<path d="M113.5 762.5L117.2 766.2L113.5 769.9L109.8 766.2Z" fill="#e01010" stroke="none" stroke-width="0.0"/>
<path d="M149.5 739.7L153.2 743.4L149.5 747.1L145.8 743.4Z" fill="#e01010" stroke="none" stroke-width="0.0"/>
<path d="M257.5 721.9L261.2 725.6L257.5 729.3L253.8 725.6Z" fill="#e01010" stroke="none" stroke-width="0.0"/>
<path d="M437.5 703.0L441.2 706.7L437.5 710.4L433.8 706.7Z" fill="#e01010" stroke="none" stroke-width="0.0"/>
<path d="M77.5 823.5L80.8 826.8L77.5 830.1L74.2 826.8Z" fill="#fff" stroke="#1a1a1a" stroke-width="1.3"/>
<path d="M95.5 818.5L98.8 821.8L95.5 825.1L92.2 821.8Z" fill="#fff" stroke="#1a1a1a" stroke-width="1.3"/>
<path d="M113.5 790.7L116.8 794.0L113.5 797.3L110.2 794.0Z" fill="#fff" stroke="#1a1a1a" stroke-width="1.3"/>
<path d="M149.5 729.2L152.8 732.5L149.5 735.8L146.2 732.5Z" fill="#fff" stroke="#1a1a1a" stroke-width="1.3"/>
<path d="M257.5 693.0L260.8 696.3L257.5 699.6L254.2 696.3Z" fill="#fff" stroke="#1a1a1a" stroke-width="1.3"/>
<path d="M437.5 657.8L440.8 661.1L437.5 664.4L434.2 661.1Z" fill="#fff" stroke="#1a1a1a" stroke-width="1.3"/>
<line x1="438.3" y1="749.9" x2="464.2" y2="749.9" stroke="#d83030" stroke-width="1.3"/>
<path d="M451.2 745.9L455.2 749.9L451.2 753.9L447.2 749.9Z" fill="#e01010" stroke="none" stroke-width="0.0"/>
<line x1="438.3" y1="771.3" x2="464.2" y2="771.3" stroke="#1a1a1a" stroke-width="1.3"/>
<path d="M451.2 767.7L454.9 771.3L451.2 774.9L447.6 771.3Z" fill="#fff" stroke="#1a1a1a" stroke-width="1.3"/>
<text x="468.2" y="754.5" font-family='"Liberation Sans", sans-serif' font-size="13" fill="#222">patient</text>
<text x="468.2" y="775.9" font-family='"Liberation Sans", sans-serif' font-size="13" fill="#222">control</text>
</svg>
</body></html>
